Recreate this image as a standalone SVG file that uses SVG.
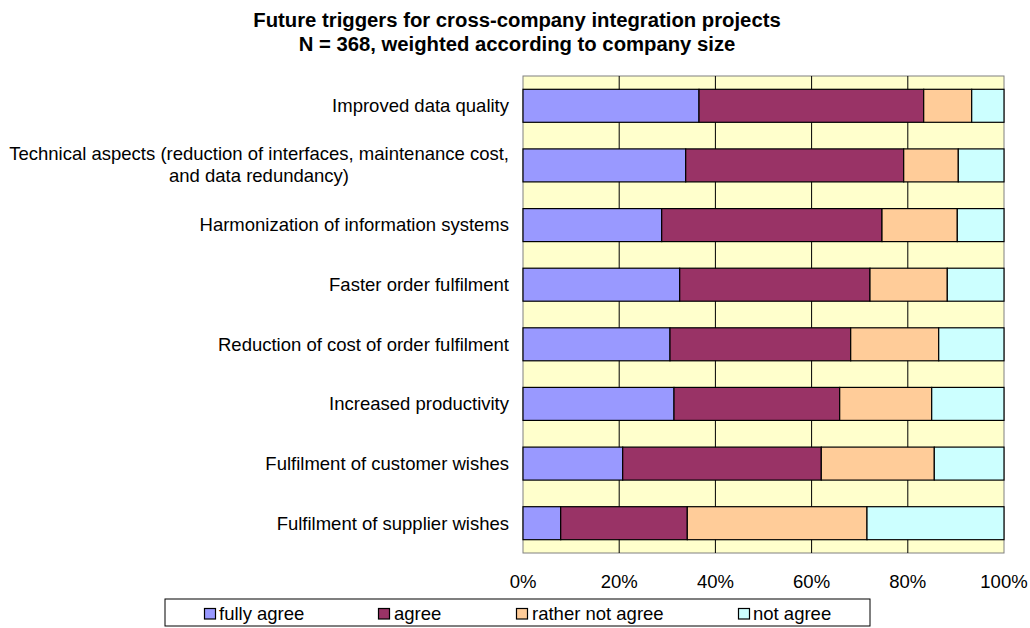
<svg xmlns="http://www.w3.org/2000/svg" width="1030" height="628" viewBox="0 0 1030 628">
<style>
text{font-family:"Liberation Sans",Arial,sans-serif;fill:#000}
.t{font-size:20.3px;font-weight:bold;text-anchor:middle}
.c{font-size:18.5px;text-anchor:end}
.cm{font-size:18.5px;text-anchor:middle}
.ax{font-size:18.5px;text-anchor:middle}
.lg{font-size:18.5px}
.grid{stroke:#000;stroke-width:1}
.fa{fill:#9999FF;stroke:#000;stroke-width:1.2}
.ag{fill:#993366;stroke:#000;stroke-width:1.2}
.rn{fill:#FFCC99;stroke:#000;stroke-width:1.2}
.na{fill:#CCFFFF;stroke:#000;stroke-width:1.2}
</style>
<rect width="1030" height="628" fill="#fff"/>
<g id="title">
<text class="t" x="517" y="27">Future triggers for cross-company integration projects</text>
<text class="t" x="517" y="51">N = 368, weighted according to company size</text>
</g>
<g id="plot">
<rect x="523" y="76" width="481" height="477" fill="#FFFFCC" stroke="#808080" stroke-width="1"/>
<g class="grid">
<line x1="619.2" y1="76" x2="619.2" y2="553"/>
<line x1="715.4" y1="76" x2="715.4" y2="553"/>
<line x1="811.6" y1="76" x2="811.6" y2="553"/>
<line x1="907.8" y1="76" x2="907.8" y2="553"/>
</g>
</g>
<g id="bar1"><rect class="fa" x="523" y="89.3" width="176" height="33"/><rect class="ag" x="699" y="89.3" width="224.7" height="33"/><rect class="rn" x="923.7" y="89.3" width="48" height="33"/><rect class="na" x="971.7" y="89.3" width="32.3" height="33"/></g>
<g id="bar2"><rect class="fa" x="523" y="148.9" width="162.7" height="33"/><rect class="ag" x="685.7" y="148.9" width="218" height="33"/><rect class="rn" x="903.7" y="148.9" width="54.6" height="33"/><rect class="na" x="958.3" y="148.9" width="45.7" height="33"/></g>
<g id="bar3"><rect class="fa" x="523" y="208.6" width="138.7" height="33"/><rect class="ag" x="661.7" y="208.6" width="220.3" height="33"/><rect class="rn" x="882" y="208.6" width="75.3" height="33"/><rect class="na" x="957.3" y="208.6" width="46.7" height="33"/></g>
<g id="bar4"><rect class="fa" x="523" y="268.2" width="156.7" height="33"/><rect class="ag" x="679.7" y="268.2" width="190.3" height="33"/><rect class="rn" x="870" y="268.2" width="77.3" height="33"/><rect class="na" x="947.3" y="268.2" width="56.7" height="33"/></g>
<g id="bar5"><rect class="fa" x="523" y="327.8" width="147" height="33"/><rect class="ag" x="670" y="327.8" width="180.7" height="33"/><rect class="rn" x="850.7" y="327.8" width="88" height="33"/><rect class="na" x="938.7" y="327.8" width="65.3" height="33"/></g>
<g id="bar6"><rect class="fa" x="523" y="387.4" width="151" height="33"/><rect class="ag" x="674" y="387.4" width="165.7" height="33"/><rect class="rn" x="839.7" y="387.4" width="92" height="33"/><rect class="na" x="931.7" y="387.4" width="72.3" height="33"/></g>
<g id="bar7"><rect class="fa" x="523" y="447.1" width="99.7" height="33"/><rect class="ag" x="622.7" y="447.1" width="198.6" height="33"/><rect class="rn" x="821.3" y="447.1" width="113" height="33"/><rect class="na" x="934.3" y="447.1" width="69.7" height="33"/></g>
<g id="bar8"><rect class="fa" x="523" y="506.7" width="37.7" height="33"/><rect class="ag" x="560.7" y="506.7" width="126.6" height="33"/><rect class="rn" x="687.3" y="506.7" width="179.7" height="33"/><rect class="na" x="867" y="506.7" width="137" height="33"/></g>
<g id="categories">
<text class="c" x="509" y="112">Improved data quality</text>
<text class="c" x="509" y="159.5">Technical aspects (reduction of interfaces, maintenance cost,</text>
<text class="cm" x="259" y="182">and data redundancy)</text>
<text class="c" x="509" y="231">Harmonization of information systems</text>
<text class="c" x="509" y="291">Faster order fulfilment</text>
<text class="c" x="509" y="350.5">Reduction of cost of order fulfilment</text>
<text class="c" x="509" y="410">Increased productivity</text>
<text class="c" x="509" y="470">Fulfilment of customer wishes</text>
<text class="c" x="509" y="529.5">Fulfilment of supplier wishes</text>
</g>
<g id="xaxis">
<text class="ax" x="523" y="588">0%</text>
<text class="ax" x="619.2" y="588">20%</text>
<text class="ax" x="715.4" y="588">40%</text>
<text class="ax" x="811.6" y="588">60%</text>
<text class="ax" x="907.8" y="588">80%</text>
<text class="ax" x="1004" y="588">100%</text>
</g>
<g id="legend">
<rect x="165" y="599" width="705" height="27" fill="#fff" stroke="#000" stroke-width="1"/>
<rect class="fa" x="204.5" y="608.5" width="11" height="10.5"/>
<text class="lg" x="219" y="619.5">fully agree</text>
<rect class="ag" x="378.5" y="608.5" width="11" height="10.5"/>
<text class="lg" x="394" y="619.5">agree</text>
<rect class="rn" x="516.5" y="608.5" width="11" height="10.5"/>
<text class="lg" x="532" y="619.5">rather not agree</text>
<rect class="na" x="738.5" y="608.5" width="11" height="10.5"/>
<text class="lg" x="753" y="619.5">not agree</text>
</g>
</svg>
